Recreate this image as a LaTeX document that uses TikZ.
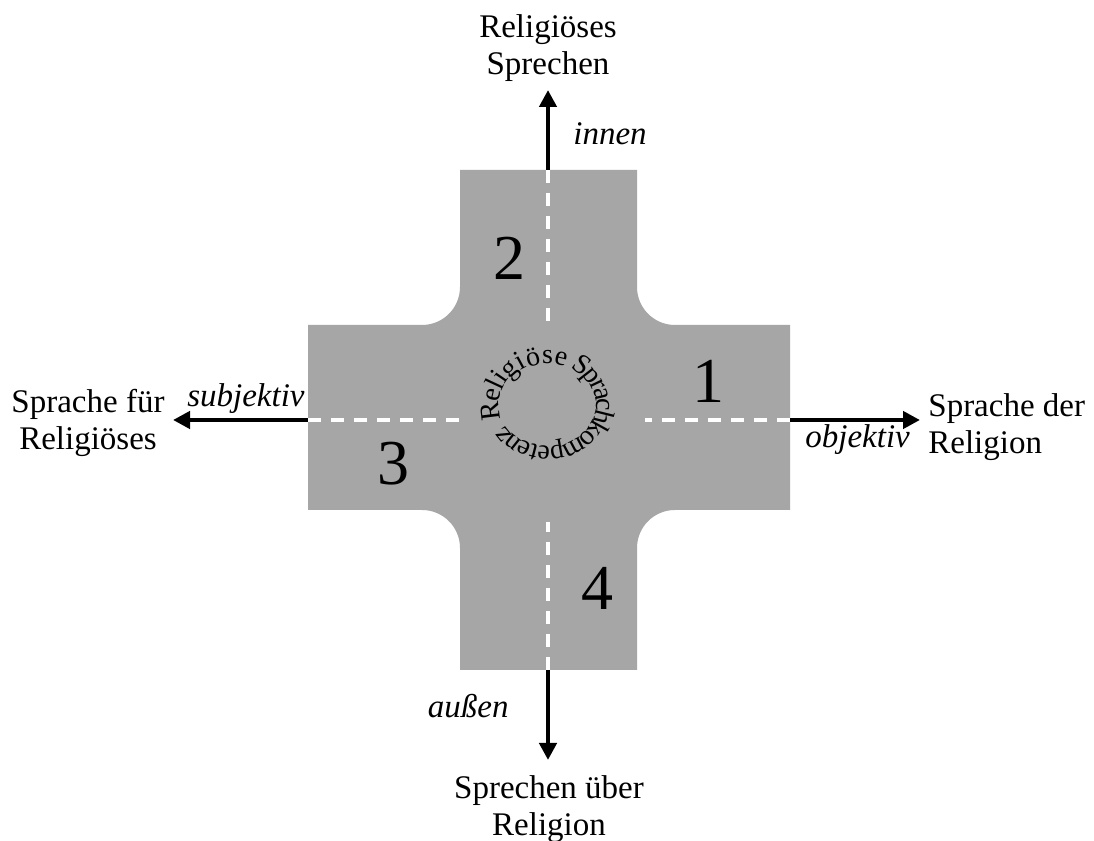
\documentclass[tikz,border=0pt]{standalone}
\usepackage{fontspec}
\setmainfont{Liberation Serif}
\usetikzlibrary{arrows.meta}
\definecolor{crossgray}{RGB}{166,166,166}
\begin{document}
\begin{tikzpicture}[x=0.5pt,y=0.5pt,
  lbl/.style={font=\fontsize{16.5}{18.5}\selectfont, inner sep=0pt, align=center},
  dirlbl/.style={font=\fontsize{16.5}{18.5}\selectfont\itshape, inner sep=0pt},
  num/.style={font=\fontsize{32}{36}\selectfont, inner sep=0pt},
  ringchar/.style={font=\fontsize{14}{16}\selectfont, inner sep=0pt, anchor=base},
  axisarrow/.style={line width=2.25pt, -{Triangle[length=8.5pt,width=8.5pt]}},
  centerdash/.style={white, line width=1.75pt, dash pattern=on 6.5pt off 5pt}]
\useasboundingbox (0,0) rectangle (1094,841);
\fill[white] (0,0) rectangle (1094,841);
% cross shape
\fill[crossgray] (460,671) -- (637,671) -- (637,554)
  arc[start angle=180,end angle=270,radius=38] -- (790,516) -- (790,331) -- (675,331)
  arc[start angle=90,end angle=180,radius=38] -- (637,171) -- (460,171) -- (460,293)
  arc[start angle=0,end angle=90,radius=38] -- (308,331) -- (308,516) -- (422,516)
  arc[start angle=270,end angle=360,radius=38] -- cycle;
% coordinates
\coordinate (edgeT) at (548,671);
\coordinate (edgeB) at (548,171);
\coordinate (edgeL) at (308,421);
\coordinate (edgeR) at (790,421);
\coordinate (dashT) at (548,514);
\coordinate (dashB) at (548,319);
\coordinate (dashL) at (460,421);
\coordinate (dashR) at (645,421);
\coordinate (tipT) at (548,751);
\coordinate (tipB) at (548,81);
\coordinate (tipL) at (173,421);
\coordinate (tipR) at (920,421);
\coordinate (ring) at (547.5,436);
% dashed center lines
\draw[centerdash] (edgeT) -- (dashT);
\draw[centerdash] (edgeB) -- (dashB);
\draw[centerdash] (edgeL) -- (dashL);
\draw[centerdash] (edgeR) -- (dashR);
% arrows
\draw[axisarrow] (edgeT) -- (tipT);
\draw[axisarrow] (edgeB) -- (tipB);
\draw[axisarrow] (edgeL) -- (tipL);
\draw[axisarrow] (edgeR) -- (tipR);
% labels
\node[lbl] (lblT) at (548,793) {Religiöses\\Sprechen};
\node[lbl] (lblB) at (549,32) {Sprechen über\\Religion};
\node[lbl] (lblL) at (88,418) {Sprache für\\Religiöses};
\node[lbl, align=left, anchor=west] (lblR) at (928,414) {Sprache der\\Religion};
\node[dirlbl, anchor=base west] (innen) at (573,696) {innen};
\node[dirlbl, anchor=base east] (subj) at (305,434) {subjektiv};
\node[dirlbl, anchor=base west] (obj) at (805,393) {objektiv};
\node[dirlbl, anchor=base east] (aussen) at (509,123) {außen};
% numbers
\node[num, anchor=base] (n1) at (708,438) {1};
\node[num, anchor=base] (n2) at (509,561) {2};
\node[num, anchor=base] (n3) at (393,356) {3};
\node[num, anchor=base] (n4) at (597,231) {4};
% circular text "Religiöse Sprachkompetenz"
\foreach \ch/\ang [count=\i] in {R/187, e/167.5, l/155, i/145.5, g/132, i/118.5,
    ö/105, s/90, e/76, S/54, p/38, r/25.5, a/13.5, c/0, h/-14, k/-29,
    o/-43.5, m/-62, p/-80, e/-94, t/-104.5, e/-115, n/-128.5, z/-142}
  \path (ring) ++(\ang:49 and 41) node[ringchar, rotate=\ang-90] (ch\i) {\ch};
\end{tikzpicture}
\end{document}
